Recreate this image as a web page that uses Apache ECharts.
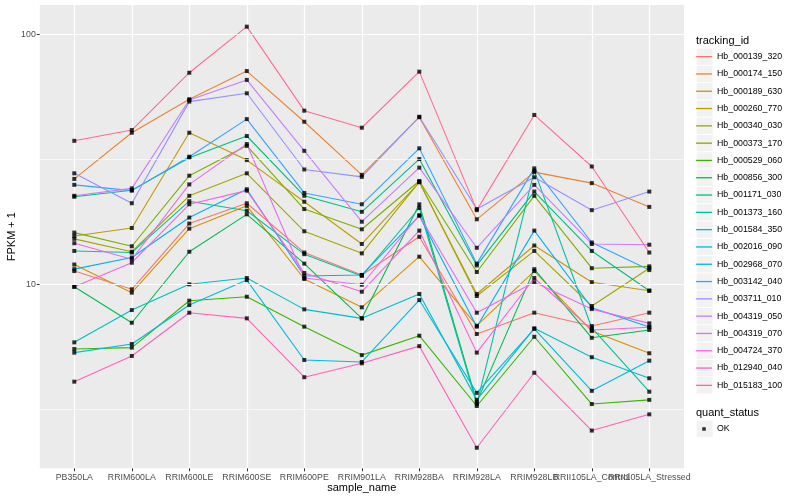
<!DOCTYPE html>
<html>
<head>
<meta charset="utf-8">
<script src="https://cdn.jsdelivr.net/npm/echarts@6/dist/echarts.min.js"></script>
<style>
html,body{margin:0;padding:0;background:#ffffff;}
#chart{width:800px;height:500px;}
</style>
</head>
<body>
<div id="chart"></div>
<script>
// ---------- data ----------
const categories = ['PB350LA','RRIM600LA','RRIM600LE','RRIM600SE','RRIM600PE','RRIM901LA','RRIM928BA','RRIM928LA','RRIM928LB','RRII105LA_Control','RRII105LA_Stressed'];

const trackingIds = ['Hb_000139_320','Hb_000174_150','Hb_000189_630','Hb_000260_770','Hb_000340_030','Hb_000373_170','Hb_000529_060','Hb_000856_300','Hb_001171_030','Hb_001373_160','Hb_001584_350','Hb_002016_090','Hb_002968_070','Hb_003142_040','Hb_003711_010','Hb_004319_050','Hb_004319_070','Hb_004724_370','Hb_012940_040','Hb_015183_100'];

const colors = ['#F8766D','#EA8331','#D89000','#C09B00','#A3A500','#7CAE00','#39B600','#00BB4E','#00BF7D','#00C1A3','#00BFC4','#00BAE0','#00B0F6','#35A2FF','#9590FF','#C77CFF','#E76BF3','#FA62DB','#FF62BC','#FF6C91'];

const hb_000139_320 = [11.3, 9.55, 17.5, 21.1, 13.4, 10.9, 15.5, 6.33, 7.70, 6.81, 7.70];
const hb_000174_150 = [26.4, 40.4, 55.0, 71.3, 44.7, 27.4, 46.6, 18.2, 28.1, 25.4, 20.4];
const hb_000189_630 = [12.0, 9.26, 16.7, 20.6, 10.5, 8.09, 12.9, 6.83, 11.3, 6.50, 5.30];
const hb_000260_770 = [15.6, 16.8, 40.4, 31.4, 21.4, 14.5, 25.6, 9.15, 14.3, 10.2, 9.43];
const hb_000340_030 = [15.2, 13.5, 22.6, 27.8, 16.3, 13.3, 25.7, 8.98, 13.6, 8.19, 11.6];
const hb_000373_170 = [16.1, 14.2, 27.2, 35.8, 20.0, 16.6, 25.9, 11.2, 22.6, 11.6, 11.8];
const hb_000529_060 = [5.51, 5.58, 8.60, 8.92, 6.77, 5.21, 6.23, 3.26, 6.17, 3.32, 3.45];
const hb_000856_300 = [9.78, 7.02, 13.5, 19.05, 12.1, 7.31, 20.9, 3.38, 11.5, 6.11, 6.57];
const hb_001171_030 = [22.4, 23.8, 32.1, 39.2, 22.6, 19.5, 31.7, 11.9, 23.5, 13.6, 9.43];
const hb_001373_160 = [13.6, 13.4, 21.5, 19.7, 13.2, 10.8, 20.2, 3.32, 28.5, 6.69, 3.72];
const hb_001584_350 = [5.86, 7.89, 10.0, 10.6, 7.94, 7.31, 9.15, 3.45, 6.67, 5.11, 4.21];
const hb_002016_090 = [5.33, 5.77, 8.26, 10.4, 4.98, 4.89, 8.65, 3.68, 6.63, 3.75, 4.95];
const hb_002968_070 = [11.5, 12.8, 18.5, 24.0, 10.8, 10.9, 18.8, 6.77, 16.4, 8.06, 6.75];
const hb_003142_040 = [25.0, 23.7, 32.4, 45.8, 23.2, 20.9, 35.0, 12.1, 29.1, 14.7, 11.4];
const hb_003711_010 = [27.8, 21.1, 53.8, 58.1, 28.8, 26.9, 46.8, 20.0, 26.8, 19.8, 23.5];
const hb_004319_050 = [22.6, 24.2, 54.6, 65.7, 34.2, 17.8, 29.3, 14.0, 25.0, 14.5, 14.4];
const hb_004319_070 = [14.6, 12.6, 25.1, 36.4, 10.6, 9.96, 18.9, 7.70, 10.2, 7.96, 6.98];
const hb_004724_370 = [9.78, 12.2, 20.9, 23.7, 11.1, 9.34, 16.4, 5.33, 10.6, 6.57, 6.73];
const hb_012940_040 = [4.08, 5.17, 7.70, 7.31, 4.25, 4.83, 5.66, 2.22, 4.43, 2.60, 3.02];
const hb_015183_100 = [37.5, 41.4, 70.2, 107.3, 49.5, 42.3, 70.9, 19.8, 47.6, 29.6, 13.4];

const seriesValues = [hb_000139_320, hb_000174_150, hb_000189_630, hb_000260_770, hb_000340_030,
  hb_000373_170, hb_000529_060, hb_000856_300, hb_001171_030, hb_001373_160, hb_001584_350,
  hb_002016_090, hb_002968_070, hb_003142_040, hb_003711_010, hb_004319_050, hb_004319_070,
  hb_004724_370, hb_012940_040, hb_015183_100];

const yTickLabels = [10, 100];
const yMinorBreaks = [3.16228, 31.6228];
const quantStatus = ['OK'];

// ---------- layout ----------
const PANEL = {left: 39.8, top: 5, width: 644.2, height: 463.3};
const CATS = {left: 74.3, width: 575};
const Y_MIN = 1.837, Y_MAX = 131;
const FONT = 'Liberation Sans, Arial, Helvetica, sans-serif';
const LEG_LEFT = 696, LEG_TOP = 48.0, LEG_STEP = 17.3, LEG2_TOP = 420.3;

const chart = echarts.init(document.getElementById('chart'), null, {renderer: 'canvas'});

const lineSeries = trackingIds.map((id, i) => ({
  name: id,
  type: 'line',
  xAxisIndex: 1, yAxisIndex: 1,
  data: seriesValues[i],
  color: colors[i],
  symbol: 'none',
  lineStyle: {color: colors[i], width: 1.1},
  silent: true,
  z: 2
}));

const pointData = [];
seriesValues.forEach(vals => vals.forEach((v, j) => pointData.push([j, v])));

const keyRects = [];
for (let i = 0; i < trackingIds.length; i++) {
  keyRects.push({type: 'rect', shape: {x: LEG_LEFT + 0.7, y: LEG_TOP + i * LEG_STEP + 0.5, width: 16, height: 16.3},
    style: {fill: '#F2F2F2'}, z: 0, silent: true});
}
keyRects.push({type: 'rect', shape: {x: LEG_LEFT + 0.7, y: LEG2_TOP + 0.5, width: 16, height: 16.3},
  style: {fill: '#F2F2F2'}, z: 0, silent: true});

const legendText = {fontSize: 8.8, color: '#000', fontFamily: FONT, lineHeight: LEG_STEP, height: LEG_STEP};

const option = {
  animation: false,
  backgroundColor: '#ffffff',
  textStyle: {fontFamily: FONT},
  title: [
    {text: 'tracking_id', left: LEG_LEFT, top: 35.5, padding: 0,
      textStyle: {fontSize: 11, fontWeight: 'normal', color: '#000', fontFamily: FONT}},
    {text: 'quant_status', left: LEG_LEFT, top: 407.3, padding: 0,
      textStyle: {fontSize: 11, fontWeight: 'normal', color: '#000', fontFamily: FONT}}
  ],
  graphic: keyRects,
  legend: [
    {
      data: trackingIds,
      orient: 'vertical',
      left: LEG_LEFT, top: LEG_TOP,
      padding: 0, itemGap: 0,
      itemWidth: 16, itemHeight: LEG_STEP,
      icon: 'path://M0,0H16V1.3H0Z',
      symbolKeepAspect: true,
      selectedMode: false,
      textStyle: legendText
    },
    {
      data: quantStatus,
      orient: 'vertical',
      left: LEG_LEFT, top: LEG2_TOP,
      padding: 0, itemGap: 0,
      itemWidth: 16, itemHeight: LEG_STEP,
      icon: 'path://M0,0H16V0.01H0ZM6.2,6.85H9.8V10.45H6.2ZM0,17.29H16V17.3H0Z',
      symbolKeepAspect: true,
      selectedMode: false,
      textStyle: legendText
    }
  ],
  grid: [
    {left: PANEL.left, top: PANEL.top, width: PANEL.width, height: PANEL.height,
      show: true, backgroundColor: '#EBEBEB', borderWidth: 0, containLabel: false, outerBoundsMode: 'none'},
    {left: CATS.left, top: PANEL.top, width: CATS.width, height: PANEL.height,
      show: false, borderWidth: 0, containLabel: false, outerBoundsMode: 'none'}
  ],
  xAxis: [
    {gridIndex: 0, type: 'value', min: 0, max: 1, show: false},
    {gridIndex: 1, type: 'category', data: categories, boundaryGap: false,
      axisLine: {show: false},
      axisTick: {show: true, length: 3, interval: 0, lineStyle: {color: '#333333', width: 1}},
      axisLabel: {interval: 0, fontSize: 8.8, color: '#4D4D4D', margin: 4.5, fontFamily: FONT, hideOverlap: false},
      splitLine: {show: true, interval: 0, lineStyle: {color: '#FFFFFF', width: 1.2}},
      name: 'sample_name', nameLocation: 'middle', nameGap: 14, nameMoveOverlap: false,
      nameTextStyle: {fontSize: 11, color: '#000', fontFamily: FONT}}
  ],
  yAxis: [
    {gridIndex: 0, type: 'log', logBase: 10, min: Y_MIN, max: Y_MAX,
      axisLine: {show: false},
      axisTick: {show: true, length: 3, customValues: yTickLabels, lineStyle: {color: '#333333', width: 1}},
      axisLabel: {customValues: yTickLabels, fontSize: 8.8, color: '#4D4D4D', margin: 4, fontFamily: FONT,
        formatter: v => {
          const l = Math.log10(v);
          return Math.abs(l - Math.round(l)) < 1e-6 ? String(Math.round(v)) : '';
        }},
      splitLine: {show: false},
      minorSplitLine: {show: false},
      name: 'FPKM + 1', nameLocation: 'middle', nameGap: 22, nameMoveOverlap: false,
      nameTextStyle: {fontSize: 11, color: '#000', fontFamily: FONT}},
    {gridIndex: 1, type: 'log', logBase: 10, min: Y_MIN, max: Y_MAX, show: false,
      splitLine: {show: false}}
  ],
  series: [
    {
      name: 'panel-grid', type: 'line', xAxisIndex: 0, yAxisIndex: 0, data: [], silent: true, z: 1,
      markLine: {
        silent: true, symbol: ['none', 'none'], animation: false,
        label: {show: false},
        lineStyle: {color: '#FFFFFF', type: 'solid', width: 1.2},
        emphasis: {disabled: true},
        data: yTickLabels.map(v => ({yAxis: v, lineStyle: {color: '#FFFFFF', type: 'solid', width: 1.2}}))
          .concat(yMinorBreaks.map(v => ({yAxis: v, lineStyle: {color: '#FFFFFF', type: 'solid', width: 0.6}})))
      }
    }
  ].concat(lineSeries).concat([
    {
      name: 'OK', type: 'scatter', xAxisIndex: 1, yAxisIndex: 1,
      data: pointData, symbol: 'rect', symbolSize: 4,
      itemStyle: {color: '#000000'}, color: '#000000', silent: true, z: 3
    }
  ])
};

chart.setOption(option);
</script>
</body>
</html>
